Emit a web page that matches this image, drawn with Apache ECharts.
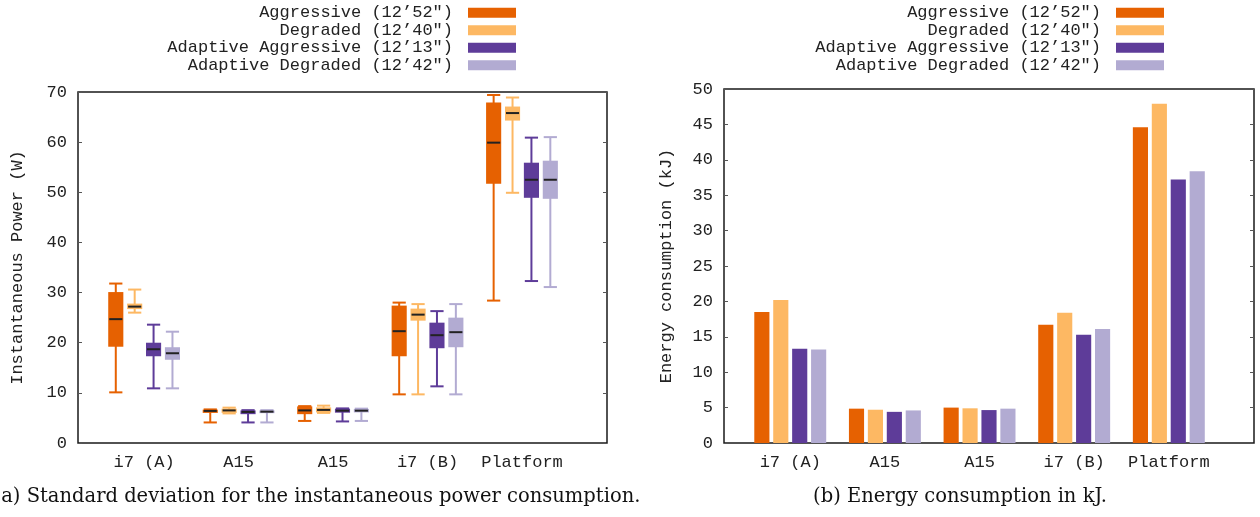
<!DOCTYPE html>
<html>
<head>
<meta charset="utf-8">
<script src="https://cdn.jsdelivr.net/npm/echarts@6/dist/echarts.min.js"></script>
<style>
  html, body { margin: 0; padding: 0; background: #fff; }
  #chart { width: 1260px; height: 517px; }
</style>
</head>
<body>
<div id="chart"></div>
<script>
// ---------- data ----------
const categories = ['i7 (A)', 'A15', 'A15', 'i7 (B)', 'Platform'];
const seriesNames = ['Aggressive (12\u201952")', 'Degraded (12\u201940")', 'Adaptive Aggressive (12\u201913")', 'Adaptive Degraded (12\u201942")'];
const seriesColors = ['#e66101', '#fdb863', '#5e3c99', '#b2abd2'];

// power box stats per category: [low, q1, median, q3, high]
const powerAggressive = [
  [10.1, 19.2, 24.7, 30.1, 31.8],
  [4.1, 6.0, 6.4, 6.65, 6.7],
  [4.4, 5.75, 6.5, 7.3, 7.35],
  [9.7, 17.3, 22.3, 27.4, 28.0],
  [28.4, 51.7, 59.9, 67.9, 69.4]
];
const powerDegraded = [
  [26.0, 26.7, 27.2, 27.8, 30.6],
  [5.9, 6.0, 6.5, 6.85, 7.05],
  [6.0, 6.1, 6.6, 7.1, 7.45],
  [9.7, 24.4, 25.6, 26.8, 27.7],
  [49.9, 64.3, 65.8, 67.1, 68.9]
];
const powerAdaptiveAggressive = [
  [10.9, 17.3, 18.7, 20.0, 23.6],
  [4.1, 5.75, 6.2, 6.5, 6.55],
  [4.3, 6.05, 6.45, 6.85, 6.9],
  [11.3, 18.9, 21.5, 24.0, 26.3],
  [32.3, 48.9, 52.5, 55.9, 60.9]
];
const powerAdaptiveDegraded = [
  [10.9, 16.6, 17.9, 19.1, 22.2],
  [4.1, 5.95, 6.25, 6.5, 6.55],
  [4.4, 6.1, 6.45, 6.8, 6.85],
  [9.7, 19.1, 22.1, 25.0, 27.7],
  [31.1, 48.7, 52.5, 56.3, 61.0]
];

// energy (kJ)
const energyAggressive = [18.5, 4.85, 5.0, 16.7, 44.6];
const energyDegraded = [20.2, 4.7, 4.9, 18.4, 47.9];
const energyAdaptiveAggressive = [13.3, 4.4, 4.65, 15.3, 37.2];
const energyAdaptiveDegraded = [13.2, 4.6, 4.85, 16.1, 38.4];

const powerTicks = [0, 10, 20, 30, 40, 50, 60, 70];
const energyTicks = [0, 5, 10, 15, 20, 25, 30, 35, 40, 45, 50];

// ---------- chart ----------
const powerSets = [powerAggressive, powerDegraded, powerAdaptiveAggressive, powerAdaptiveDegraded];
const energySets = [energyAggressive, energyDegraded, energyAdaptiveAggressive, energyAdaptiveDegraded];
const offsets = [-0.3, -0.1, 0.1, 0.3];
const MONO = '"Liberation Mono", "DejaVu Sans Mono", monospace';
const TXT = '#222';

function boxRenderer(si) {
  return function (params, api) {
    const x = api.value(0) + offsets[si];
    const low = api.value(1), q1 = api.value(2), med = api.value(3), q3 = api.value(4), high = api.value(5);
    const pLow = api.coord([x, low]);
    const pHigh = api.coord([x, high]);
    const pQ1 = api.coord([x, q1]);
    const pQ3 = api.coord([x, q3]);
    const pMed = api.coord([x, med]);
    const bw = api.size([0.16, 0])[0];
    const cw = api.size([0.14, 0])[0];
    const col = seriesColors[si];
    const ls = { stroke: col, lineWidth: 2 };
    return {
      type: 'group',
      children: [
        { type: 'line', shape: { x1: pLow[0], y1: pLow[1], x2: pHigh[0], y2: pHigh[1] }, style: ls },
        { type: 'line', shape: { x1: pLow[0] - cw / 2, y1: pLow[1], x2: pLow[0] + cw / 2, y2: pLow[1] }, style: ls },
        { type: 'line', shape: { x1: pHigh[0] - cw / 2, y1: pHigh[1], x2: pHigh[0] + cw / 2, y2: pHigh[1] }, style: ls },
        { type: 'rect', shape: { x: pQ3[0] - bw / 2, y: pQ3[1], width: bw, height: Math.max(pQ1[1] - pQ3[1], 1) }, style: { fill: col } },
        { type: 'line', shape: { x1: pMed[0] - bw / 2 + 1, y1: pMed[1], x2: pMed[0] + bw / 2 - 1, y2: pMed[1] }, style: { stroke: '#222', lineWidth: 2 } }
      ]
    };
  };
}

function barRenderer(si) {
  return function (params, api) {
    const x = api.value(0) + offsets[si];
    const v = api.value(1);
    const p0 = api.coord([x, 0]);
    const p1 = api.coord([x, v]);
    const bw = api.size([0.16, 0])[0];
    return {
      type: 'rect',
      shape: { x: p1[0] - bw / 2, y: p1[1], width: bw, height: p0[1] - p1[1] },
      style: { fill: seriesColors[si] }
    };
  };
}

const series = [];
powerSets.forEach((set, si) => {
  series.push({
    type: 'custom',
    name: seriesNames[si],
    xAxisIndex: 0, yAxisIndex: 0,
    color: seriesColors[si],
    itemStyle: { color: seriesColors[si] },
    renderItem: boxRenderer(si),
    encode: { x: 0, y: [1, 2, 3, 4, 5] },
    data: set.map((s, i) => [i].concat(s)),
    silent: true
  });
});
energySets.forEach((set, si) => {
  series.push({
    type: 'custom',
    name: seriesNames[si],
    xAxisIndex: 1, yAxisIndex: 2,
    color: seriesColors[si],
    itemStyle: { color: seriesColors[si] },
    renderItem: barRenderer(si),
    encode: { x: 0, y: 1 },
    data: set.map((v, i) => [i, v]),
    silent: true
  });
});

function xAxisCfg(gi) {
  return {
    type: 'value', gridIndex: gi, min: -0.7, max: 4.9,
    axisLine: { show: false, onZero: false }, axisTick: { show: false }, splitLine: { show: false },
    axisLabel: {
      customValues: [0, 1, 2, 3, 4],
      formatter: v => categories[Math.round(v)],
      fontFamily: MONO, fontSize: 17, color: TXT, margin: 11
    }
  };
}
function yAxisCfg(gi, ticks, pos, showLabels, name, gap) {
  return {
    type: 'value', gridIndex: gi, position: pos,
    min: ticks[0], max: ticks[ticks.length - 1], interval: ticks[1] - ticks[0],
    axisLine: { show: false, onZero: false },
    axisTick: { show: true, inside: true, length: 4, lineStyle: { color: '#555', width: 1 } },
    splitLine: { show: false },
    axisLabel: { show: showLabels, fontFamily: MONO, fontSize: 17, color: TXT, margin: 11 },
    name: name, nameLocation: 'middle', nameGap: gap, nameRotate: 90,
    nameTextStyle: { fontFamily: MONO, fontSize: 17, color: TXT }
  };
}

const legendBase = {
  orient: 'vertical', align: 'right', icon: 'rect',
  itemWidth: 48, itemHeight: 10, itemGap: 0, padding: 0, top: 4,
  selectedMode: false,
  textStyle: { fontFamily: MONO, fontSize: 17, color: TXT, lineHeight: 17.5, padding: [0, 10, 0, 0] },
  data: seriesNames
};

const option = {
  animation: false,
  backgroundColor: '#fff',
  grid: [
    { left: 78, top: 92, width: 529, height: 351, show: true, borderColor: '#1a1a1a', borderWidth: 1.5, backgroundColor: 'transparent' },
    { left: 724, top: 89, width: 530, height: 354, show: true, borderColor: '#1a1a1a', borderWidth: 1.5, backgroundColor: 'transparent' }
  ],
  xAxis: [xAxisCfg(0), xAxisCfg(1)],
  yAxis: [
    yAxisCfg(0, powerTicks, 'left', true, 'Instantaneous Power (W)', 52),
    yAxisCfg(0, powerTicks, 'right', false, '', 0),
    yAxisCfg(1, energyTicks, 'left', true, 'Energy consumption (kJ)', 49),
    yAxisCfg(1, energyTicks, 'right', false, '', 0)
  ],
  legend: [
    Object.assign({}, legendBase, { right: 744 }),
    Object.assign({}, legendBase, { right: 96 })
  ],
  graphic: [
    { type: 'text', x: 317, y: 497, style: { text: '(a) Standard deviation for the instantaneous power consumption.', align: 'center', verticalAlign: 'middle', fontFamily: '"DejaVu Serif", serif', fontSize: 19.5, fill: '#111' } },
    { type: 'text', x: 960, y: 497, style: { text: '(b) Energy consumption in kJ.', align: 'center', verticalAlign: 'middle', fontFamily: '"DejaVu Serif", serif', fontSize: 19.5, fill: '#111' } }
  ],
  series: series
};

const chart = echarts.init(document.getElementById('chart'), null, { renderer: 'canvas' });
chart.setOption(option);
</script>
</body>
</html>
